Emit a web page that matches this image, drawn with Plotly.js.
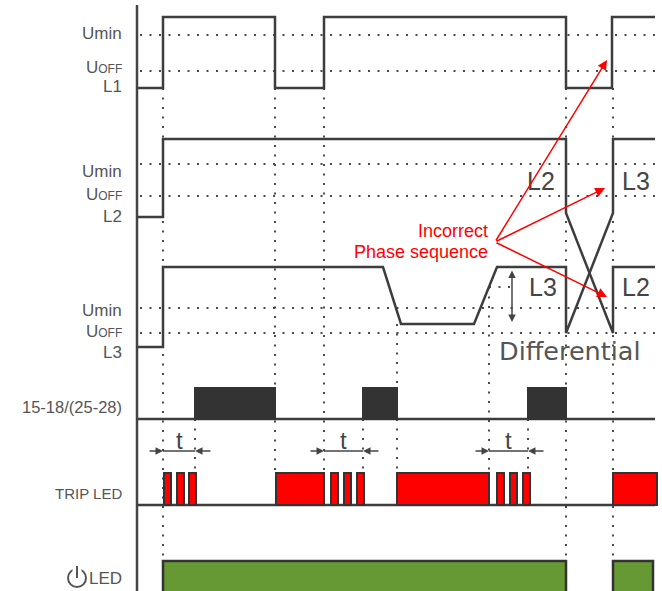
<!DOCTYPE html>
<html><head><meta charset="utf-8">
<script src="https://cdn.plot.ly/plotly-3.0.1.min.js"></script>
<style>html,body{margin:0;padding:0;background:#fff}#chart{width:662px;height:591px}</style>
</head><body><div id="chart"></div>
<script>
// ---- data (time on the horizontal axis, signal level on the vertical axis) ----
const timeStart = 138, timeEnd = 655;
const thresholdLevels = [35, 71, 164, 196, 308, 333];   // Umin / Uoff of L1, L2, L3
const hysteresisLevel = 287, hysteresisFrom = 489, hysteresisTo = 517;

const L1_t = [138, 163, 163, 275, 275, 324, 324, 566, 566, 612, 612, 655];
const L1_v = [88, 88, 17, 17, 88, 88, 17, 17, 88, 88, 17, 17];
const L2_t = [138, 163, 163, 566, 566, 613, 613, 655];
const L2_v = [217, 217, 139, 139, 213, 333, 267, 267];
const L3_t = [138, 163, 163, 383, 401, 474, 497, 566, 566, 613, 613, 655];
const L3_v = [347, 347, 267, 267, 324, 324, 267, 267, 333, 213, 139, 139];

const relayOnStart = [195, 363, 528];
const relayOnEnd   = [275, 397, 566];
const relayLow = 419, relayHigh = 388;

const tripSteadyStart = [276, 397, 613];
const tripSteadyEnd   = [324, 489, 657];
const tripBlinkStart  = [164, 177, 189, 331, 344, 357, 497, 510, 523];
const tripBlinkEnd    = [171, 184, 196, 338, 351, 364, 504, 517, 530];
const tripLow = 505, tripHigh = 473;

const powerOnStart = [163, 613];
const powerOnEnd   = [566, 653];
const powerLow = 600, powerHigh = 561;

const eventTimes  = [163, 195, 275, 324, 363, 397, 489, 528, 566, 613];
const eventTop    = [88, 419, 88, 88, 419, 324, 287, 419, 88, 88];
const eventBottom = [561, 473, 473, 473, 473, 473, 473, 473, 561, 561];

const delayStart = [163, 324, 489];
const delayEnd   = [195, 363, 528];
const delayLevel = 451;

const diffTime = 512, diffTop = 267, diffBottom = 324;

// ---- helpers ----
function rects(s, e, lo, hi) {
  const x = [], y = [];
  for (let i = 0; i < s.length; i++) {
    x.push(s[i], s[i], e[i], e[i], s[i], null);
    y.push(lo, hi, hi, lo, lo, null);
  }
  return {x, y};
}
const dotLine = {color: '#4a4a4a', width: 2, dash: '2px,7.5px'};
const sigLine = {color: '#3d3d3d', width: 2.5};

const hx = [], hy = [];
thresholdLevels.forEach(v => { hx.push(140, timeEnd, null); hy.push(v, v, null); });
hx.push(hysteresisFrom, hysteresisTo, null); hy.push(hysteresisLevel, hysteresisLevel, null);
const vx = [], vy = [];
eventTimes.forEach((t, i) => { vx.push(t, t, null); vy.push(eventTop[i], eventBottom[i], null); });

const relay = rects(relayOnStart, relayOnEnd, relayLow, relayHigh);
const trip = rects(tripSteadyStart.concat(tripBlinkStart), tripSteadyEnd.concat(tripBlinkEnd), tripLow, tripHigh);
const power = rects(powerOnStart, powerOnEnd, powerLow, powerHigh);

const dx = [], dy = [];
delayStart.forEach((s, i) => { dx.push(s, delayEnd[i], null); dy.push(delayLevel, delayLevel, null); });

const traces = [
  {x: hx, y: hy, mode: 'lines', line: dotLine, hoverinfo: 'skip'},
  {x: vx, y: vy, mode: 'lines', line: dotLine, hoverinfo: 'skip'},
  {x: [timeStart, timeEnd, null, timeStart, timeEnd], y: [relayLow, relayLow, null, tripLow, tripLow], mode: 'lines', line: sigLine},
  {x: relay.x, y: relay.y, mode: 'lines', fill: 'toself', fillcolor: '#333333', line: {color: '#333333', width: 2}},
  {x: trip.x, y: trip.y, mode: 'lines', fill: 'toself', fillcolor: '#ff0000', line: {color: '#333333', width: 2}},
  {x: power.x, y: power.y, mode: 'lines', fill: 'toself', fillcolor: '#669933', line: {color: '#333333', width: 2.5}},
  {x: L1_t, y: L1_v, mode: 'lines', line: sigLine},
  {x: L2_t, y: L2_v, mode: 'lines', line: sigLine},
  {x: L3_t, y: L3_v, mode: 'lines', line: sigLine},
  {x: dx, y: dy, mode: 'lines', line: {color: '#444', width: 1.5}},
  {x: [137, 137], y: [5, 591], mode: 'lines', line: {color: '#444', width: 2.5}}
];

const lblFont = {family: "'Liberation Sans', Arial, sans-serif", size: 17, color: '#555'};
const OFF = "U<span style='font-size:12px'>OFF</span>";
const labels = [
  ['Umin', 33, 17], [OFF, 67, 17], ['L1', 86.5, 17],
  ['Umin', 171, 17], [OFF, 194, 17], ['L2', 216, 17],
  ['Umin', 310, 17], [OFF, 331.5, 17], ['L3', 352.5, 17],
  ['15-18/(25-28)', 407, 16.5], ['TRIP LED', 493, 15], ['LED', 578, 17]
];
const ann = labels.map(([t, y, s]) => ({x: 123, y: y, xref: 'x', yref: 'y', text: t, showarrow: false, xanchor: 'right', yanchor: 'middle', borderpad: 0, font: Object.assign({}, lblFont, {size: s})}));

const lFont = {family: "'Liberation Sans', Arial, sans-serif", size: 25, color: '#444'};
[['L2', 541, 181], ['L3', 636, 181], ['L3', 543, 287], ['L2', 636, 287]].forEach(([t, x, y]) =>
  ann.push({x, y, xref: 'x', yref: 'y', text: t, showarrow: false, font: lFont}));
ann.push({x: 570, y: 351, xref: 'x', yref: 'y', text: 'Differential', showarrow: false, font: {family: "'DejaVu Sans', sans-serif", size: 25.5, color: '#555'}});
const redFont = {family: "'Liberation Sans', Arial, sans-serif", size: 18, color: '#ff0000'};
ann.push({x: 490, y: 231, xref: 'x', yref: 'y', text: 'Incorrect', showarrow: false, xanchor: 'right', font: redFont});
ann.push({x: 490, y: 252, xref: 'x', yref: 'y', text: 'Phase sequence', showarrow: false, xanchor: 'right', font: redFont});
[[607, 60], [605, 188], [607, 297]].forEach(([x, y]) =>
  ann.push({x, y, ax: 495, ay: 242, xref: 'x', yref: 'y', axref: 'x', ayref: 'y', text: '', showarrow: true, arrowhead: 2, arrowsize: 1.3, arrowwidth: 1.5, arrowcolor: '#ff0000'}));
delayStart.forEach((s, i) => {
  const e = delayEnd[i];
  ann.push({x: s, y: delayLevel, ax: s - 15, ay: delayLevel, xref: 'x', yref: 'y', axref: 'x', ayref: 'y', text: '', showarrow: true, arrowhead: 2, arrowsize: 1, arrowwidth: 1.5, arrowcolor: '#444'});
  ann.push({x: e, y: delayLevel, ax: e + 17, ay: delayLevel, xref: 'x', yref: 'y', axref: 'x', ayref: 'y', text: '', showarrow: true, arrowhead: 2, arrowsize: 1, arrowwidth: 1.5, arrowcolor: '#444'});
  ann.push({x: (s + e) / 2, y: 440, xref: 'x', yref: 'y', text: 't', showarrow: false, font: {family: "'Liberation Sans', Arial, sans-serif", size: 24, color: '#444'}});
});
ann.push({x: diffTime, y: diffBottom - 2, ax: diffTime, ay: diffTop + 2, xref: 'x', yref: 'y', axref: 'x', ayref: 'y', text: '', showarrow: true, arrowhead: 2, startarrowhead: 2, arrowside: 'end+start', arrowsize: 1, arrowwidth: 1.5, arrowcolor: '#444'});

// power symbol icon
const shapes = [
  {type: 'circle', xref: 'x', yref: 'y', x0: 68, x1: 86, y0: 569, y1: 587, line: {color: '#555', width: 2}},
  {type: 'rect', xref: 'x', yref: 'y', x0: 72.5, x1: 81.5, y0: 565, y1: 574, fillcolor: '#fff', line: {width: 0}},
  {type: 'line', xref: 'x', yref: 'y', x0: 77, x1: 77, y0: 566, y1: 578, line: {color: '#555', width: 2}}
];

Plotly.newPlot('chart', traces, {
  width: 662, height: 591, margin: {l: 0, r: 0, t: 0, b: 0},
  paper_bgcolor: '#fff', plot_bgcolor: '#fff', showlegend: false,
  xaxis: {range: [0, 662], visible: false, fixedrange: true},
  yaxis: {range: [591, 0], visible: false, fixedrange: true},
  annotations: ann, shapes: shapes
}, {displayModeBar: false, staticPlot: true});
</script></body></html>
